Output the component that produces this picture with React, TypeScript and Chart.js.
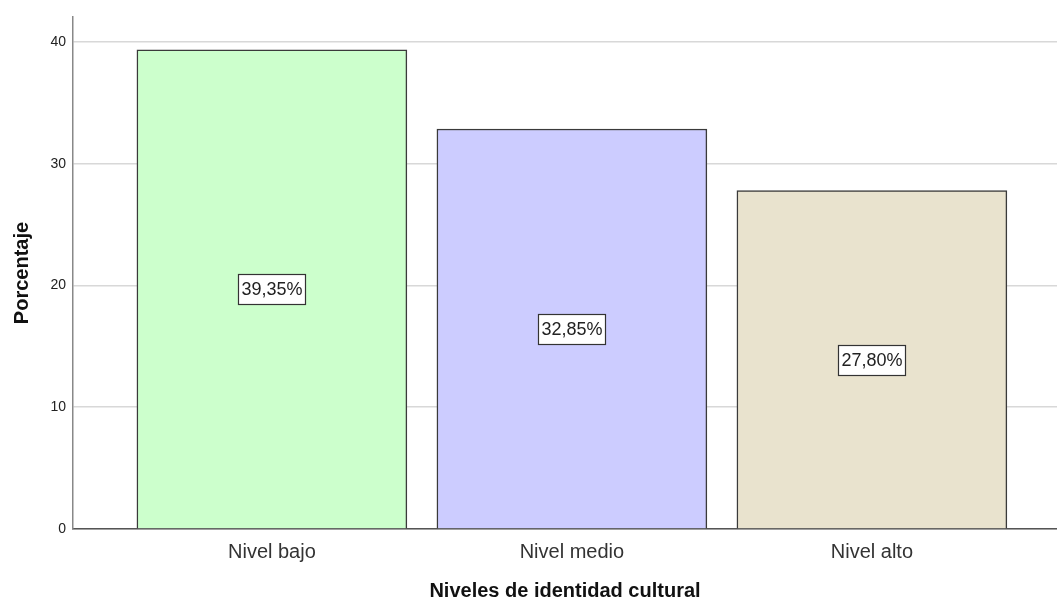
import React, { useEffect, useRef } from "react";
import { Chart, registerables } from "chart.js";

Chart.register(...registerables);

const categories = ["Nivel bajo", "Nivel medio", "Nivel alto"];
const percentages = [39.35, 32.85, 27.8];
const pctLabels = ["39,35%", "32,85%", "27,80%"];
const barColors = ["#CCFFCC", "#CCCCFF", "#E9E3CE"];
const yTicks = [0, 10, 20, 30, 40];

const FONT = "Arial, 'Liberation Sans', sans-serif";

const labelPlugin = {
  id: "boxLabels",
  afterDatasetsDraw(chart: any) {
    const ctx = chart.ctx;
    const meta = chart.getDatasetMeta(0);
    const yScale = chart.scales.y;
    ctx.save();
    ctx.font = "18px " + FONT;
    ctx.textAlign = "center";
    ctx.textBaseline = "middle";
    meta.data.forEach((el: any, i: number) => {
      const x = el.x;
      const y = yScale.getPixelForValue(percentages[i] / 2);
      const txt = pctLabels[i];
      const w = Math.round(ctx.measureText(txt).width + 6);
      const h = 30;
      const bx = Math.round(x - w / 2) + 0.5;
      const by = Math.round(y - h / 2) + 0.5;
      ctx.fillStyle = "#ffffff";
      ctx.fillRect(bx, by, w, h);
      ctx.strokeStyle = "#333333";
      ctx.lineWidth = 1.2;
      ctx.strokeRect(bx, by, w, h);
      ctx.fillStyle = "#222222";
      ctx.fillText(txt, x, y + 1);
    });
    ctx.restore();
  },
};

export default function App() {
  const ref = useRef<HTMLCanvasElement>(null);
  useEffect(() => {
    document.body.style.margin = "0";
    const chart = new Chart(ref.current!, {
      type: "bar",
      data: {
        datasets: [
          {
            data: percentages.map((v, i) => ({ x: i, y: v })),
            backgroundColor: barColors,
            borderColor: "#3a3a3a",
            borderWidth: 1.5,
            barThickness: 270,
          } as any,
        ],
      },
      options: {
        responsive: false,
        animation: false,
        layout: { padding: { top: 17, right: 0, left: 0, bottom: 0 } },
        plugins: { legend: { display: false }, tooltip: { enabled: false } },
        scales: {
          x: {
            type: "linear",
            offset: false,
            min: -0.663,
            max: 2.617,
            afterBuildTicks: (s: any) => {
              s.ticks = categories.map((_, i) => ({ value: i }));
            },
            afterFit: (s: any) => {
              s.height = 70;
            },
            ticks: {
              callback: (v: any) => categories[v] ?? "",
              font: { family: FONT, size: 20 },
              color: "#333333",
              padding: 11,
              autoSkip: false,
              maxRotation: 0,
            },
            grid: { display: false, drawTicks: false, offset: false },
            border: { color: "#555555", width: 1.5 },
            title: {
              display: true,
              text: "Niveles de identidad cultural",
              font: { family: FONT, size: 20, weight: "bold", lineHeight: 1 },
              color: "#111111",
              padding: { top: 0, bottom: -2 },
            },
          } as any,
          y: {
            min: 0,
            max: 42.05,
            afterBuildTicks: (s: any) => {
              s.ticks = yTicks.map((v) => ({ value: v }));
            },
            afterFit: (s: any) => {
              s.width = 73;
            },
            ticks: {
              font: { family: FONT, size: 14 },
              color: "#222222",
              padding: 7,
            },
            grid: { color: "#d8d8d8", lineWidth: 1.5, drawTicks: false },
            border: { color: "#888888", width: 1.5 },
            title: {
              display: true,
              text: "Porcentaje",
              font: { family: FONT, size: 20, weight: "bold", lineHeight: 1 },
              color: "#111111",
              padding: { top: 12, bottom: 0 },
            },
          },
        },
      },
      plugins: [labelPlugin],
    });
    return () => chart.destroy();
  }, []);
  return (
    <div style={{ position: "fixed", left: 0, top: 0, width: 1057, height: 599, background: "#fff" }}>
      <canvas ref={ref} width={1057} height={599} style={{ width: 1057, height: 599 }} />
    </div>
  );
}
